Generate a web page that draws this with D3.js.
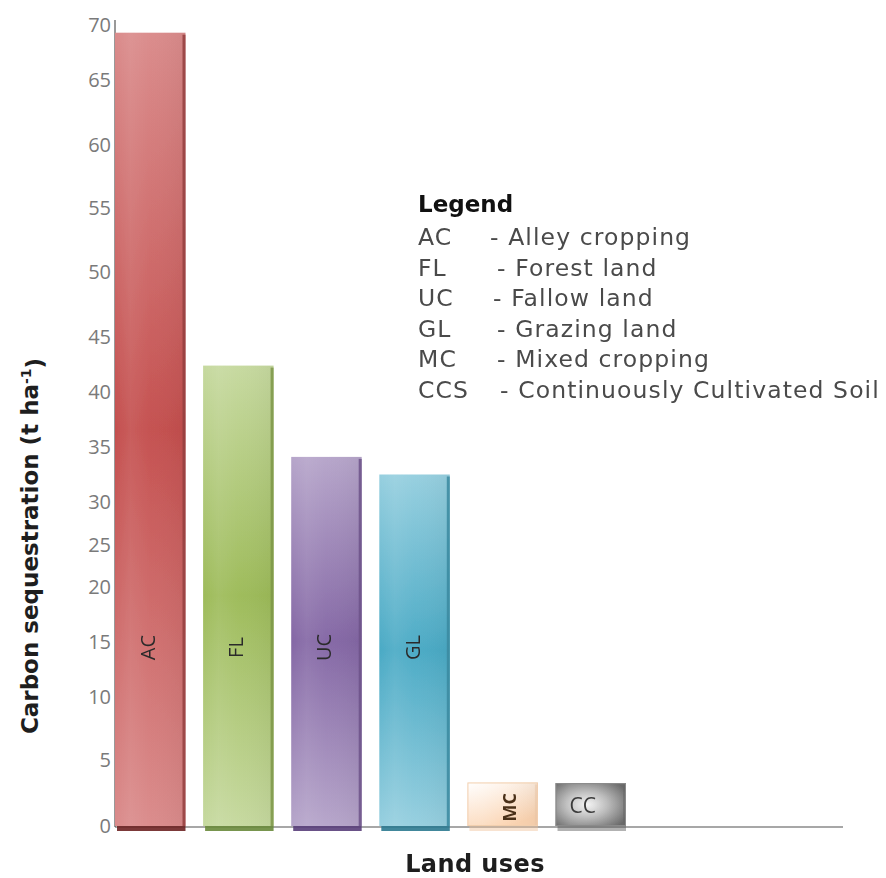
<!DOCTYPE html>
<html>
<head>
<meta charset="utf-8">
<script src="https://cdn.jsdelivr.net/npm/d3@7"></script>
<style>
  html, body { margin: 0; padding: 0; background: #fff; }
  svg { display: block; }
</style>
</head>
<body>
<svg id="chart" width="886" height="878"></svg>
<script>
// Land-use categories and carbon sequestration (t ha^-1)
const categories = ["AC", "FL", "UC", "GL", "MC", "CC"];
const values = [69.3, 42.4, 34.1, 32.5, 3.3, 3.25];
const tickValues = [0, 5, 10, 15, 20, 25, 30, 35, 40, 45, 50, 55, 60, 65, 70];
const legendAbbr = ["AC", "FL", "UC", "GL", "MC", "CCS"];
const legendDesc = ["- Alley cropping", "- Forest land", "- Fallow land", "- Grazing land", "- Mixed cropping", "- Continuously Cultivated Soil"];

// Bar colour schemes: [edge colour, middle colour, side shade, bottom shade]
const palette = [
  ["#da8b8b", "#c44f4e", "#94403f", "#6e2424"],
  ["#c6d99f", "#9dbb59", "#7d9648", "#6a8a3a"],
  ["#b6a5ca", "#8467a5", "#6c5288", "#5a3f7a"],
  ["#96cfdf", "#4aaac5", "#3b8aa0", "#2d7a90"],
  ["#ffffff", "#fbd3b0", "#e8c4a4", "#f0c09a"],
  ["#f4f4f4", "#6e6e6e", "#666666", "#555555"]
];

const svg = d3.select("#chart");
const axisX = 115, plotTop = 20, plotRight = 843;

// Uneven vertical axis: labels sit at hand-placed heights, so the value
// scale is piecewise linear through them.
const tickY = [826, 760, 697, 642, 587, 545, 502, 447, 392, 337, 272, 208, 145, 80, 25];
const y = d3.scaleLinear().domain(tickValues).range(tickY);
const baseY = y(0);

const x = d3.scaleBand()
  .domain(categories)
  .range([axisX, 626])
  .paddingInner(0.2)
  .paddingOuter(0);

const defs = svg.append("defs");
categories.forEach((c, i) => {
  const p = palette[i];
  if (c === "CC") {
    const g = defs.append("radialGradient").attr("id", "grad-" + c)
      .attr("cx", "0.45").attr("cy", "0.5").attr("r", "0.65");
    g.append("stop").attr("offset", "0").attr("stop-color", p[0]);
    g.append("stop").attr("offset", "0.45").attr("stop-color", "#bdbdbd");
    g.append("stop").attr("offset", "1").attr("stop-color", p[1]);
  } else if (c === "MC") {
    const g = defs.append("linearGradient").attr("id", "grad-" + c)
      .attr("x1", "0").attr("y1", "0").attr("x2", "0.6").attr("y2", "1");
    g.append("stop").attr("offset", "0").attr("stop-color", p[0]);
    g.append("stop").attr("offset", "1").attr("stop-color", p[1]);
  } else {
    const g = defs.append("linearGradient").attr("id", "grad-" + c)
      .attr("x1", "0").attr("y1", "0").attr("x2", "0").attr("y2", "1");
    g.append("stop").attr("offset", "0").attr("stop-color", p[0]);
    g.append("stop").attr("offset", "0.5").attr("stop-color", p[1]);
    g.append("stop").attr("offset", "1").attr("stop-color", p[0]);
  }
});
// soft vertical sheen across each bar
const sheen = defs.append("linearGradient").attr("id", "sheen")
  .attr("x1", "0").attr("y1", "0").attr("x2", "1").attr("y2", "0");
sheen.append("stop").attr("offset", "0").attr("stop-color", "#fff").attr("stop-opacity", 0);
sheen.append("stop").attr("offset", "0.22").attr("stop-color", "#fff").attr("stop-opacity", 0.08);
sheen.append("stop").attr("offset", "0.5").attr("stop-color", "#fff").attr("stop-opacity", 0.02);
sheen.append("stop").attr("offset", "1").attr("stop-color", "#000").attr("stop-opacity", 0.04);

const blur = defs.append("filter").attr("id", "soft").attr("x", "-5%").attr("y", "-5%").attr("width", "110%").attr("height", "110%");
blur.append("feGaussianBlur").attr("stdDeviation", 0.6);

// Axes lines
svg.append("line")
  .attr("x1", axisX).attr("x2", plotRight)
  .attr("y1", baseY + 1).attr("y2", baseY + 1)
  .attr("stroke", "#8a8a8a").attr("stroke-width", 1.5);

const yAxis = d3.axisLeft(y).tickValues(tickValues).tickSize(0).tickPadding(4);
const yG = svg.append("g").attr("transform", `translate(${axisX},0)`).call(yAxis);
yG.select(".domain").attr("d", `M0,${plotTop}V${baseY + 1}`).attr("stroke", "#555").attr("stroke-width", 1.2);
yG.selectAll(".tick text")
  .attr("fill", "#7a7a7a")
  .style("font-family", "'Open Sans', sans-serif")
  .style("font-size", "20px");

// Bars
const bars = svg.append("g").attr("filter", "url(#soft)");
const barG = bars.selectAll("g.bar").data(categories).join("g").attr("class", "bar");
barG.append("rect")
  .attr("x", d => x(d))
  .attr("y", (d, i) => y(values[i]))
  .attr("width", x.bandwidth())
  .attr("height", (d, i) => baseY - y(values[i]))
  .attr("fill", d => `url(#grad-${d})`);
barG.append("rect")
  .attr("x", d => x(d))
  .attr("y", (d, i) => y(values[i]))
  .attr("width", x.bandwidth())
  .attr("height", (d, i) => baseY - y(values[i]))
  .attr("fill", "url(#sheen)");
// right-hand shaded side
barG.append("rect")
  .attr("x", d => x(d) + x.bandwidth() - 3)
  .attr("y", (d, i) => y(values[i]) + 2)
  .attr("width", 3)
  .attr("height", (d, i) => baseY - y(values[i]) - 2)
  .attr("fill", (d, i) => palette[i][2])
  .attr("opacity", (d, i) => i >= 4 ? 0.5 : 0.85);
// dark base strip
barG.append("rect")
  .attr("x", d => x(d) + 2)
  .attr("y", baseY)
  .attr("width", x.bandwidth() - 2)
  .attr("height", 5)
  .attr("fill", (d, i) => palette[i][3])
  .attr("opacity", (d, i) => i >= 4 ? 0.45 : 0.9);
// thin outline for the small boxes
barG.filter((d, i) => i >= 4).append("rect")
  .attr("x", d => x(d) + 0.5)
  .attr("y", d => y(values[categories.indexOf(d)]) + 0.5)
  .attr("width", x.bandwidth() - 1)
  .attr("height", d => baseY - y(values[categories.indexOf(d)]) - 1)
  .attr("fill", "none")
  .attr("stroke", (d, i) => i === 0 ? "#f2cfae" : "#8a8a8a")
  .attr("stroke-width", 1);

// Category labels inside the bars
const labelFont = "'Open Sans', sans-serif";
categories.forEach((c, i) => {
  const cx = x(c) + x.bandwidth() / 2;
  if (c === "CC") {
    svg.append("text")
      .attr("x", cx - 8).attr("y", (y(values[i]) + baseY) / 2 + 1)
      .attr("dy", "0.35em")
      .attr("text-anchor", "middle")
      .attr("fill", "#3a3a3a")
      .style("font-family", labelFont).style("font-size", "21px")
      .text(c);
  } else if (c === "MC") {
    svg.append("text")
      .attr("transform", `translate(${x(c) + x.bandwidth() * 0.6},${(y(values[i]) + baseY) / 2 + 3}) rotate(-90)`)
      .attr("dy", "0.35em")
      .attr("text-anchor", "middle")
      .attr("fill", "#4a3018")
      .style("font-family", labelFont).style("font-size", "18px").style("font-weight", "bold")
      .text(c);
  } else {
    svg.append("text")
      .attr("transform", `translate(${cx - 2},${y(14.5)}) rotate(-90)`)
      .attr("dy", "0.35em")
      .attr("text-anchor", "middle")
      .attr("fill", "#2a2a2a")
      .style("font-family", labelFont).style("font-size", "20px")
      .text(c);
  }
});

// Axis titles
const yTitle = svg.append("text")
  .attr("transform", `translate(38,${546}) rotate(-90)`)
  .attr("text-anchor", "middle")
  .attr("fill", "#1e1e1e")
  .style("font-family", "'DejaVu Sans', Verdana, sans-serif")
  .style("font-size", "23px").style("font-weight", "bold");
yTitle.append("tspan").text("Carbon sequestration (t ha");
yTitle.append("tspan").attr("dy", "-0.5em").style("font-size", "14px").text("-1");
yTitle.append("tspan").attr("dy", "0.5em").text(")");

svg.append("text")
  .attr("x", 475).attr("y", 872)
  .attr("text-anchor", "middle")
  .attr("fill", "#1e1e1e")
  .style("font-family", "'DejaVu Sans', Verdana, sans-serif")
  .style("font-size", "24px").style("font-weight", "bold")
  .style("letter-spacing", "0.4px")
  .text("Land uses");

// Legend
const lg = svg.append("g").attr("transform", "translate(418,212)")
  .style("font-family", "'DejaVu Sans', Verdana, sans-serif");
lg.append("text").attr("x", 0).attr("y", 0)
  .attr("fill", "#111").style("font-size", "23px").style("font-weight", "bold")
  .text("Legend");
const descX = [72, 79, 75, 79, 79, 82];
legendAbbr.forEach((a, i) => {
  const t = lg.append("text").attr("y", 33 + i * 30.6)
    .attr("fill", "#4a4a4a").style("font-size", "23.5px").style("letter-spacing", "1.1px");
  t.append("tspan").attr("x", 0).text(a);
  t.append("tspan").attr("x", descX[i]).text(legendDesc[i]);
});
</script>
</body>
</html>
